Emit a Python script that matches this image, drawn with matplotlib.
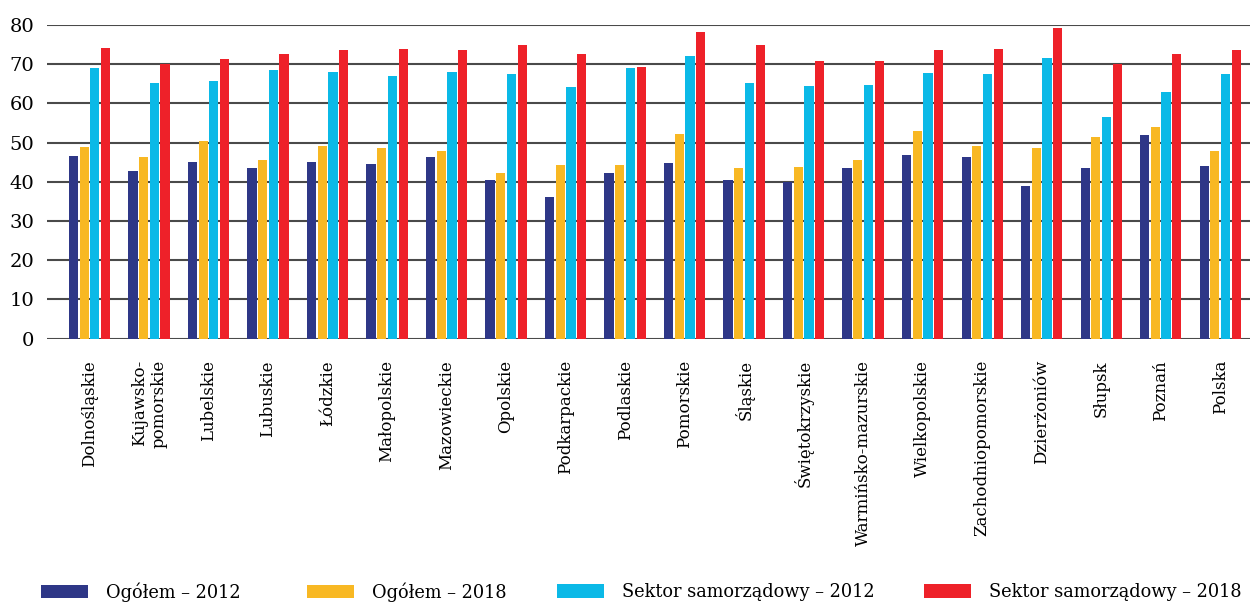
import numpy as np
import matplotlib
matplotlib.use("Agg")
import matplotlib.pyplot as plt
from matplotlib.patches import Patch

plt.rcParams["font.family"] = ["DejaVu Serif"]

categories = ["Dolnośląskie", "Kujawsko-\npomorskie", "Lubelskie", "Lubuskie", "Łódzkie",
              "Małopolskie", "Mazowieckie", "Opolskie", "Podkarpackie", "Podlaskie",
              "Pomorskie", "Śląskie", "Świętokrzyskie", "Warmińsko-mazurskie",
              "Wielkopolskie", "Zachodniopomorskie", "Dzierżoniów", "Słupsk", "Poznań", "Polska"]

ogolem_2012 = [46.5, 42.7, 45.0, 43.5, 45.0, 44.5, 46.3, 40.4, 36.1, 42.2,
               44.7, 40.4, 40.0, 43.5, 46.8, 46.3, 38.9, 43.5, 51.9, 44.0]
ogolem_2018 = [48.8, 46.3, 50.3, 45.5, 49.1, 48.6, 47.8, 42.2, 44.2, 44.2,
               52.1, 43.5, 43.7, 45.5, 52.9, 49.1, 48.6, 51.4, 53.9, 47.8]
sektor_2012 = [69.0, 65.1, 65.6, 68.4, 68.0, 67.0, 68.0, 67.5, 64.1, 69.0,
               72.0, 65.1, 64.4, 64.6, 67.7, 67.5, 71.5, 56.5, 62.8, 67.5]
sektor_2018 = [74.1, 70.0, 71.3, 72.5, 73.5, 73.8, 73.5, 74.8, 72.5, 69.2,
               78.1, 74.8, 70.7, 70.7, 73.5, 73.8, 79.2, 70.0, 72.5, 73.5]

series = [ogolem_2012, ogolem_2018, sektor_2012, sektor_2018]
labels = ["Ogółem – 2012", "Ogółem – 2018", "Sektor samorządowy – 2012", "Sektor samorządowy – 2018"]
colors = ["#2E3787", "#F8B823", "#0BB9E7", "#EE2129"]

fig = plt.figure(figsize=(12.5, 6.03), dpi=100)
ax = fig.add_axes([0.0376, 0.4386, 0.9624, 0.52])

x = np.arange(len(categories))
step, w = 0.18, 0.155
for k, (vals, col) in enumerate(zip(series, colors)):
    ax.bar(x + (k - 1.5) * step, vals, width=w, color=col, zorder=3)

ax.set_xlim(-0.714, 19.5)
ax.set_ylim(0, 80)
ax.set_yticks(np.arange(0, 81, 10))
ax.yaxis.grid(True, color="#4a4a4a", lw=1.5, zorder=0)
ax.set_axisbelow(True)
for s in ax.spines.values():
    s.set_visible(False)
ax.tick_params(axis="y", length=0, labelsize=14, pad=9)
ax.tick_params(axis="x", length=0, pad=15.5)
ax.set_xticks(x)
ax.set_xticklabels(categories, rotation=90, fontsize=12, multialignment="right")

# legenda: cztery osobne wpisy, jak w oryginale (stałe kolumny)
leg_x = [41, 307, 557, 924]
for lx, col, lab in zip(leg_x, colors, labels):
    fig.legend([Patch(facecolor=col, edgecolor="none")], [lab], loc="center left",
               bbox_to_anchor=(lx / 1250, 1 - 592 / 603), frameon=False, fontsize=12.8,
               borderpad=0, borderaxespad=0, handlelength=2.64, handleheight=0.79,
               handletextpad=1.0)

fig.savefig("out.png", dpi=100)
